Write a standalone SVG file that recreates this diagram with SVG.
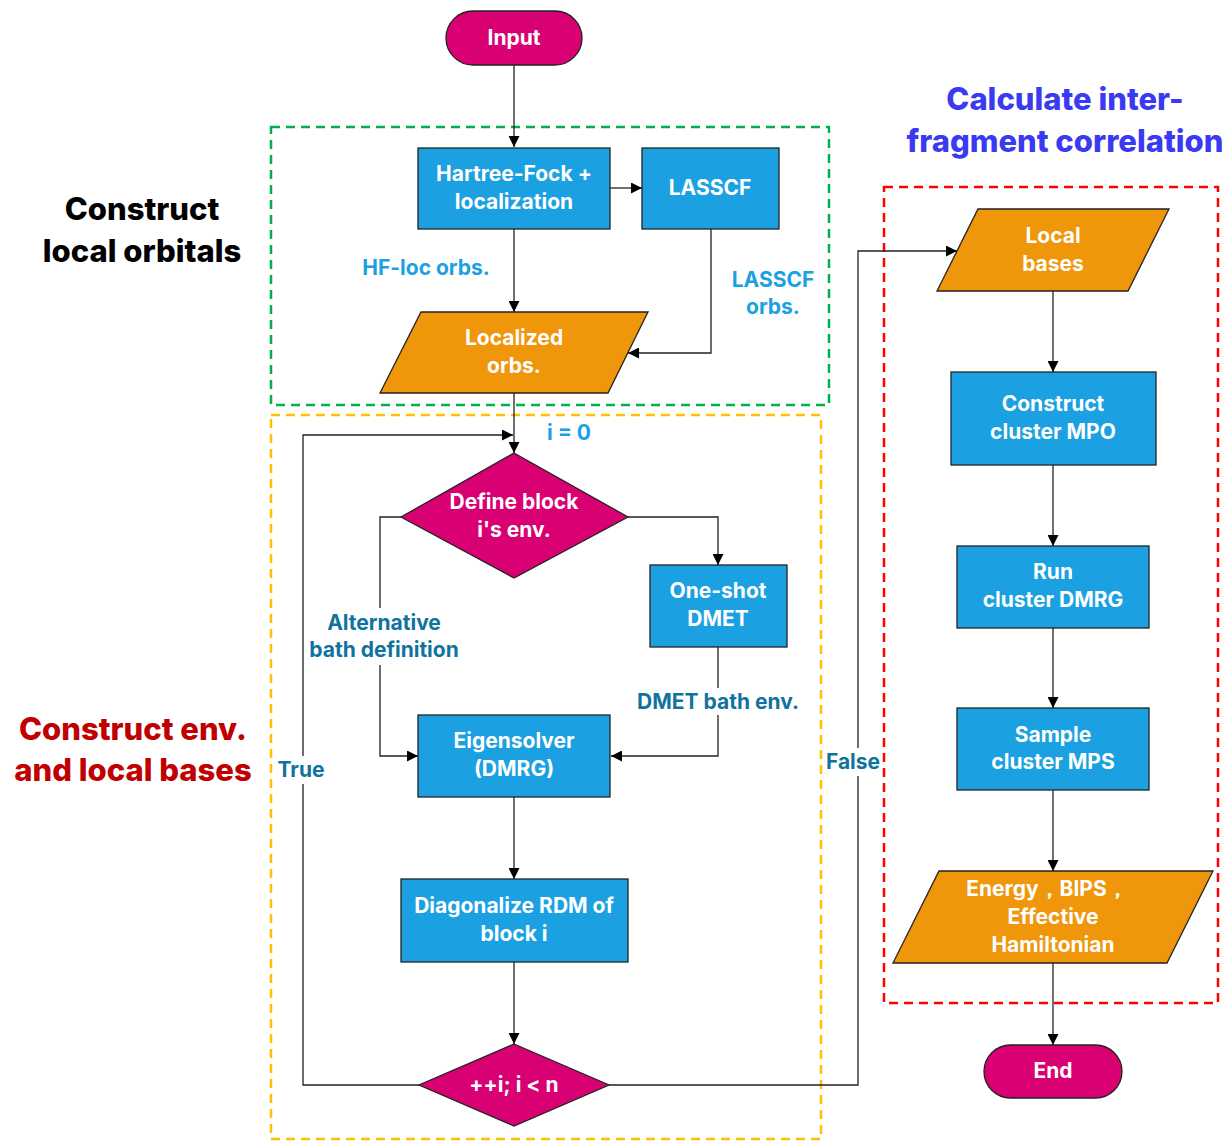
<svg xmlns="http://www.w3.org/2000/svg" width="1230" height="1141" viewBox="0 0 1230 1141">
<style>
.nt{font-family:Inter,"Liberation Sans",sans-serif;font-weight:700;font-size:21px;fill:#fff;text-anchor:middle}
.blue{fill:#1ba1e2;stroke:#222;stroke-width:1.3}
.orange{fill:#f0960b;stroke:#222;stroke-width:1.3}
.mag{fill:#d80073;stroke:#222;stroke-width:1.3}
.edge{fill:none;stroke:#222;stroke-width:1.3}
.lbl{font-family:Inter,"Liberation Sans",sans-serif;font-weight:700;font-size:21px;text-anchor:middle}
.lb1{fill:#1ba1e2}
.lb2{fill:#10739e}
.ttl{font-family:Inter,"Liberation Sans",sans-serif;font-weight:800;font-size:31px;text-anchor:middle}
.grp{fill:none;stroke-width:2.5;stroke-dasharray:9 6}
</style>
<defs>
<marker id="arr" viewBox="0 0 10 10" refX="10" refY="5" markerWidth="11" markerHeight="11" markerUnits="userSpaceOnUse" orient="auto">
<path d="M0,0 L10,5 L0,10 z" fill="#000"/>
</marker>
</defs>
<rect width="1230" height="1141" fill="#fff"/>

<g id="groups">
<rect class="grp" x="271" y="127" width="558" height="278" stroke="#00b050"/>
<rect class="grp" x="271" y="415" width="550" height="724" stroke="#ffc000"/>
<rect class="grp" x="884" y="187" width="334" height="816" stroke="#ff0000"/>
</g>

<g id="titles">
<text class="ttl" x="142" y="220" fill="#000">Construct</text>
<text class="ttl" x="142" y="262" fill="#000">local orbitals</text>
<text class="ttl" x="133" y="740" fill="#c00000">Construct env.</text>
<text class="ttl" x="133" y="781" fill="#c00000">and local bases</text>
<text class="ttl" x="1065" y="110" fill="#3a3af2">Calculate inter-</text>
<text class="ttl" x="1065" y="152" fill="#3a3af2">fragment correlation</text>
</g>

<g id="connectors">
<path class="edge" d="M514,65 V147" marker-end="url(#arr)"/>
<path class="edge" d="M610,188 H642" marker-end="url(#arr)"/>
<path class="edge" d="M514,229 V312" marker-end="url(#arr)"/>
<path class="edge" d="M711,229 V353 H628" marker-end="url(#arr)"/>
<path class="edge" d="M514,393 V453" marker-end="url(#arr)"/>
<path class="edge" d="M419,1085 H303 V435 H513" marker-end="url(#arr)"/>
<path class="edge" d="M628,517 H718 V565" marker-end="url(#arr)"/>
<path class="edge" d="M718,647 V756 H611" marker-end="url(#arr)"/>
<path class="edge" d="M401,517 H380 V756 H418" marker-end="url(#arr)"/>
<path class="edge" d="M514,797 V879" marker-end="url(#arr)"/>
<path class="edge" d="M514,962 V1044" marker-end="url(#arr)"/>
<path class="edge" d="M609,1085 H858 V251 H957" marker-end="url(#arr)"/>
<path class="edge" d="M1053,291 V372" marker-end="url(#arr)"/>
<path class="edge" d="M1053,465 V546" marker-end="url(#arr)"/>
<path class="edge" d="M1053,628 V708" marker-end="url(#arr)"/>
<path class="edge" d="M1053,790 V871" marker-end="url(#arr)"/>
<path class="edge" d="M1053,963 V1045" marker-end="url(#arr)"/>
</g>

<g id="edge-labels">
<text class="lbl lb1" x="426" y="275">HF-loc orbs.</text>
<text class="lbl lb1" x="773" y="287">LASSCF</text>
<text class="lbl lb1" x="773" y="314">orbs.</text>
<text class="lbl lb1" x="569" y="440">i = 0</text>
<rect x="304" y="608" width="160" height="57" fill="#fff"/>
<text class="lbl lb2" x="384" y="630">Alternative</text>
<text class="lbl lb2" x="384" y="657">bath definition</text>
<rect x="632" y="688" width="174" height="27" fill="#fff"/>
<text class="lbl lb2" x="718" y="709">DMET bath env.</text>
<rect x="276" y="756" width="52" height="28" fill="#fff"/>
<text class="lbl lb2" x="301" y="777">True</text>
<rect x="825" y="748" width="56" height="28" fill="#fff"/>
<text class="lbl lb2" x="853" y="769">False</text>
</g>

<g id="input">
<rect class="mag" x="446" y="11" width="136" height="54" rx="27"/>
<text class="nt" x="514" y="45">Input</text>
</g>
<g id="hf">
<rect class="blue" x="418" y="148" width="192" height="81"/>
<text class="nt" x="514" y="181">Hartree-Fock +</text>
<text class="nt" x="514" y="209">localization</text>
</g>
<g id="lasscf">
<rect class="blue" x="642" y="148" width="137" height="81"/>
<text class="nt" x="710" y="195">LASSCF</text>
</g>
<g id="localized">
<polygon class="orange" points="421,312 648,312 608,393 380,393"/>
<text class="nt" x="514" y="345">Localized</text>
<text class="nt" x="514" y="373">orbs.</text>
</g>
<g id="define">
<polygon class="mag" points="514,453 628,517 514,578 401,517"/>
<text class="nt" x="514" y="509">Define block</text>
<text class="nt" x="514" y="537">i's env.</text>
</g>
<g id="oneshot">
<rect class="blue" x="650" y="565" width="137" height="82"/>
<text class="nt" x="718" y="598">One-shot</text>
<text class="nt" x="718" y="626">DMET</text>
</g>
<g id="eigen">
<rect class="blue" x="418" y="715" width="192" height="82"/>
<text class="nt" x="514" y="748">Eigensolver</text>
<text class="nt" x="514" y="776">(DMRG)</text>
</g>
<g id="diag">
<rect class="blue" x="401" y="879" width="227" height="83"/>
<text class="nt" x="514" y="913">Diagonalize RDM of</text>
<text class="nt" x="514" y="941">block i</text>
</g>
<g id="loop">
<polygon class="mag" points="514,1044 609,1085 514,1126 419,1085"/>
<text class="nt" x="514" y="1092">++i; i &lt; n</text>
</g>
<g id="localbases">
<polygon class="orange" points="978,209 1169,209 1128,291 937,291"/>
<text class="nt" x="1053" y="243">Local</text>
<text class="nt" x="1053" y="271">bases</text>
</g>
<g id="mpo">
<rect class="blue" x="951" y="372" width="205" height="93"/>
<text class="nt" x="1053" y="411">Construct</text>
<text class="nt" x="1053" y="439">cluster MPO</text>
</g>
<g id="run">
<rect class="blue" x="957" y="546" width="192" height="82"/>
<text class="nt" x="1053" y="579">Run</text>
<text class="nt" x="1053" y="607">cluster DMRG</text>
</g>
<g id="sample">
<rect class="blue" x="957" y="708" width="192" height="82"/>
<text class="nt" x="1053" y="742">Sample</text>
<text class="nt" x="1053" y="769">cluster MPS</text>
</g>
<g id="energy">
<polygon class="orange" points="939,871 1213,871 1167,963 893,963"/>
<text class="nt" x="1047" y="896">Energy，BIPS，</text>
<text class="nt" x="1053" y="924">Effective</text>
<text class="nt" x="1053" y="952">Hamiltonian</text>
</g>
<g id="end">
<rect class="mag" x="984" y="1045" width="138" height="53" rx="26.5"/>
<text class="nt" x="1053" y="1078">End</text>
</g>
</svg>
